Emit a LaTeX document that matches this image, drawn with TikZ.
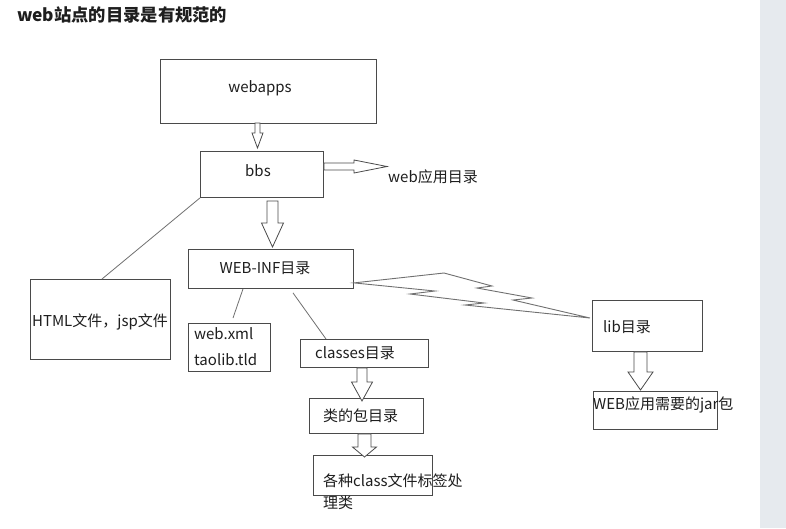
\documentclass[tikz,border=0pt]{standalone}
\usepackage{fontspec}
\setmainfont{Noto Sans CJK SC}
\usetikzlibrary{calc}
\definecolor{boxc}{HTML}{4A4A4A}
\definecolor{linec}{HTML}{707070}
\definecolor{txt}{HTML}{1E1E1E}
\definecolor{side}{HTML}{E6EAEE}
\tikzset{
  box/.style={draw=boxc, line width=0.9pt, inner sep=0pt, anchor=north west},
  lbl/.style={font=\fontsize{15}{18}\selectfont, text=txt, inner sep=0pt},
  conn/.style={draw=linec, line width=0.8pt},
  hollow/.style={draw=boxc, line width=0.8pt, fill=white, line join=miter},
  bolt/.style={draw=linec, line width=0.9pt, fill=white, line join=miter}
}
% vertical hollow arrow: #1 start, #2 tip, #3 half shaft, #4 half head, #5 head length
\newcommand\vhollow[5]{%
  \draw[hollow] let \p1=(#1), \p2=(#2) in
    (\x1-#3,\y1) -- (\x1-#3,\y2+#5) -- (\x1-#4,\y2+#5) -- (\x1,\y2) --
    (\x1+#4,\y2+#5) -- (\x1+#3,\y2+#5) -- (\x1+#3,\y1) -- cycle;}
% horizontal hollow arrow pointing right
\newcommand\hhollow[5]{%
  \draw[hollow] let \p1=(#1), \p2=(#2) in
    (\x1,\y1+#3) -- (\x2-#5,\y1+#3) -- (\x2-#5,\y1+#4) -- (\x2,\y1) --
    (\x2-#5,\y1-#4) -- (\x2-#5,\y1-#3) -- (\x1,\y1-#3) -- cycle;}
\begin{document}
\begin{tikzpicture}[x=1pt,y=-1pt]
\fill[white] (0,0) rectangle (786,528);
\useasboundingbox (0,0) rectangle (786,528);
\fill[side] (760,0) rectangle (786,528);

\node[anchor=west, inner sep=0pt, text=txt, font=\fontsize{17.3}{20}\selectfont\bfseries] (title) at (17,15) {web站点的目录是有规范的};

% boxes
\node[box, minimum width=216pt, minimum height=64pt] (webapps) at (160,59) {};
\node[box, minimum width=123pt, minimum height=46pt] (bbs) at (200,151) {};
\node[box, minimum width=140pt, minimum height=80pt] (html) at (30,279) {};
\node[box, minimum width=165pt, minimum height=39pt] (webinf) at (188,249) {};
\node[box, minimum width=82pt, minimum height=48pt] (webxml) at (188,323) {};
\node[box, minimum width=128pt, minimum height=28pt] (classes) at (300,339) {};
\node[box, minimum width=114pt, minimum height=35pt] (pkg) at (309,398) {};
\node[box, minimum width=119pt, minimum height=40pt] (tags) at (313,455) {};
\node[box, minimum width=110pt, minimum height=51pt] (lib) at (592,300) {};
\node[box, minimum width=124pt, minimum height=38pt] (jar) at (593,391) {};

% texts
\node[lbl] (twebapps) at (260,88) {webapps};
\node[lbl] (tbbs) at (258,171) {bbs};
\node[lbl, anchor=west] (tapp) at (388,177) {web应用目录};
\node[lbl] (thtml) at (100,322) {HTML文件，jsp文件};
\node[lbl] (twebinf) at (265,268) {WEB-INF目录};
\node[lbl, anchor=west] (twebxml) at (194,334) {web.xml};
\node[lbl, anchor=west] (ttaolib) at (194,360) {taolib.tld};
\node[lbl, anchor=west] (tclasses) at (315,353) {classes目录};
\node[lbl, anchor=west] (tpkg) at (323,416) {类的包目录};
\node[lbl, anchor=west] (ttags) at (323,481) {各种class文件标签处};
\node[lbl, anchor=west] (ttags2) at (323,503) {理类};
\node[lbl, anchor=west] (tlib) at (603,327) {lib目录};
\node[lbl, anchor=west] (tjar) at (593,405) {WEB应用需要的jar包};

% thin connectors
\draw[conn] (bbs.south west) -- ([xshift=72pt]html.north west);
\draw[conn] ([xshift=55pt]webinf.south west) -- ([xshift=45pt,yshift=5pt]webxml.north west);
\draw[conn] ([xshift=105pt,yshift=-4pt]webinf.south west) -- ([xshift=26pt]classes.north west);

% lightning connector webinf -> lib
\coordinate (bA) at ([yshift=6pt]webinf.south east);
\coordinate (bT) at ([xshift=-2pt,yshift=-18pt]lib.north west);
\draw[bolt] (bA) -- (444,273) -- (492,286) -- (477,288) -- (532,298) -- (513,300) -- (bT)
  -- (465,305) -- (484,303) -- (410,294) -- (435,291) -- cycle;

% hollow arrows
\coordinate (a1s) at ([xshift=97.5pt,yshift=1pt]webapps.south west);
\coordinate (a1t) at ([xshift=57.5pt,yshift=3pt]bbs.north west);
\vhollow{a1s}{a1t}{2.5pt}{5.5pt}{15pt}

\coordinate (a2s) at ([xshift=72.5pt,yshift=-3pt]bbs.south west);
\coordinate (a2t) at ([xshift=84.5pt,yshift=2pt]webinf.north west);
\vhollow{a2s}{a2t}{5.5pt}{11pt}{24pt}

\coordinate (a3s) at ([xshift=62pt]classes.south west);
\coordinate (a3t) at ([xshift=53pt,yshift=-3pt]pkg.north west);
\vhollow{a3s}{a3t}{5pt}{10.5pt}{19pt}

\coordinate (a4s) at ([xshift=55.5pt]pkg.south west);
\coordinate (a4t) at ([xshift=51.5pt,yshift=-2pt]tags.north west);
\vhollow{a4s}{a4t}{6.5pt}{12pt}{10pt}

\coordinate (a5s) at ([xshift=48.5pt]lib.south west);
\coordinate (a5t) at ([xshift=47.5pt,yshift=1pt]jar.north west);
\vhollow{a5s}{a5t}{6.5pt}{12.5pt}{18pt}

\coordinate (h1s) at ([yshift=-15.5pt]bbs.north east);
\coordinate (h1t) at ([xshift=-1pt]tapp.west);
\hhollow{h1s}{h1t}{3.5pt}{6.5pt}{33pt}
\end{tikzpicture}
\end{document}
